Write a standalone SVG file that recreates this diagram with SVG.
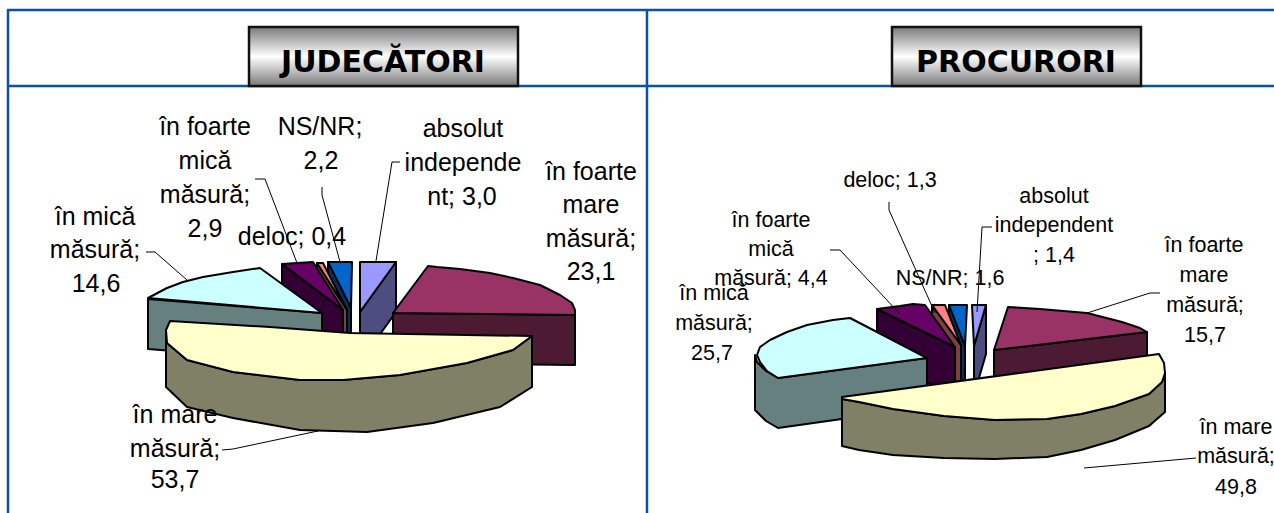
<svg xmlns="http://www.w3.org/2000/svg" width="1274" height="513" viewBox="0 0 1274 513">
<defs>
<linearGradient id="tg" x1="0" y1="0" x2="0" y2="1">
<stop offset="0" stop-color="#7a7a7a"/>
<stop offset="0.5" stop-color="#ffffff"/>
<stop offset="1" stop-color="#7a7a7a"/>
</linearGradient>
<style>
.frame{stroke:#0a52a5;stroke-width:2.5;fill:none}
.tbox{fill:url(#tg);stroke:#111;stroke-width:2.5}
.ttl{font-family:"DejaVu Sans",Verdana,sans-serif;font-weight:bold;font-size:30px;text-anchor:middle;fill:#000}
.s{stroke:#000;stroke-width:2;stroke-linejoin:round}
.lab{font-family:"Liberation Sans",Arial,sans-serif;font-size:25px;text-anchor:middle;fill:#000}
.labr{font-family:"Liberation Sans",Arial,sans-serif;font-size:21.5px;text-anchor:middle;fill:#000}
.ld{stroke:#000;stroke-width:1;fill:none}
.lav{fill:#9999ff}.lavd{fill:#4d4d80}
.mar{fill:#993366}.mard{fill:#4d1a33}
.yel{fill:#ffffcc}.yeld{fill:#808066}
.cya{fill:#ccffff}.cyad{fill:#668080}
.pur{fill:#660066}.purd{fill:#330033}
.sal{fill:#ff8080}.sald{fill:#804040}
.blu{fill:#0066cc}.blud{fill:#003366}
</style>
</defs>
<rect width="1274" height="513" fill="#fff"/>
<g id="frame">
<line class="frame" x1="7" y1="10" x2="1274" y2="10"/>
<line class="frame" x1="8" y1="10" x2="8" y2="513"/>
<line class="frame" x1="647" y1="10" x2="647" y2="513"/>
<line class="frame" x1="8" y1="86" x2="1274" y2="86"/>
</g>
<g id="title-judecatori">
<rect class="tbox" x="249" y="27" width="269" height="59"/>
<text class="ttl" x="383" y="72">JUDECĂTORI</text>
</g>
<g id="title-procurori">
<rect class="tbox" x="892" y="27" width="249" height="59"/>
<text class="ttl" x="1016" y="72">PROCURORI</text>
</g>

<!-- LEFT PIE -->
<g id="j-nsnr">
<polygon class="s blud" points="328,262 351,308 351,358 328,312"/>
<polygon class="s blu" points="328,262 352,262 351,308"/>
</g>
<g id="j-deloc">
<polygon class="s sald" points="317,263 347,310 347,360 317,313"/>
<polygon class="s sal" points="317,263 323,263 347,310"/>
</g>
<g id="j-foarte-mica">
<polygon class="s purd" points="282,264 343,310 343,360 282,314"/>
<polygon class="s pur" points="282,264 297,263 313,262 343,310"/>
</g>
<g id="j-mica">
<polygon class="s cyad" points="148,299 322,313 322,363 148,349"/>
<polygon class="s cya" points="148,298 167,288 183,282 203,277 233,272 260,268 322,313"/>
</g>
<g id="j-absolut">
<polygon class="s lavd" points="396,262 360,312 360,362 396,312"/>
<polygon class="s lav" points="360,262 396,262 360,312"/>
</g>
<g id="j-foarte-mare">
<polygon class="s mard" points="393,313 575,315 575,365 393,363"/>
<polygon class="s mar" points="393,313 428,266 437,267 460,269 490,273 513,278 540,285 560,295 572,303 575,310 575,315"/>
</g>
<g id="j-mare">
<polygon class="s yeld" points="532,336 513,350 467,363 400,375 343,380 300,380 233,372 187,360 167,343 166,330 166,387 187,407 233,418 300,430 367,432 433,423 500,407 532,387"/>
<polygon class="s yel" points="170,321 270,327 350,333 532,336 513,350 467,363 400,375 343,380 300,380 233,372 187,360 167,343 166,330"/>
</g>

<!-- RIGHT PIE -->
<g id="p-nsnr">
<polygon class="s blud" points="949,305 965,346 965,395 949,354"/>
<polygon class="s blu" points="949,305 967,305 965,346"/>
</g>
<g id="p-deloc">
<polygon class="s sald" points="932,305 961,345 961,394 932,354"/>
<polygon class="s sal" points="932,305 945,305 961,345"/>
</g>
<g id="p-foarte-mica">
<polygon class="s purd" points="877,309 955,347 955,396 877,358"/>
<polygon class="s pur" points="877,309 900,306 913,304 925,305 955,347"/>
</g>
<g id="p-mica">
<polygon class="s cyad" points="755,355 757,362 766,371 778,378 927,358 927,407 778,428 766,421 755,410"/>
<polygon class="s cya" points="778,378 767,371 760,362 757,355 760,347 770,340 787,332 807,325 833,320 850,318 927,358"/>
</g>
<g id="p-absolut">
<polygon class="s lavd" points="986,305 974,346 974,395 986,354"/>
<polygon class="s lav" points="972,305 986,305 974,346"/>
</g>
<g id="p-foarte-mare">
<polygon class="s mard" points="994,350 1147,332 1147,381 994,399"/>
<polygon class="s mar" points="994,350 1008,307 1040,309 1087,313 1122,322 1140,328 1147,332"/>
</g>
<g id="p-mare">
<polygon class="s yeld" points="842,399 859,402 893,409 944,416 995,420 1047,419 1081,414 1115,406 1149,394 1162,382 1165,373 1165,412 1149,426 1115,440 1081,450 1047,457 995,459 944,458 893,455 859,450 842,446"/>
<polygon class="s yel" points="842,397 1159,354 1164,363 1165,373 1162,382 1149,394 1115,406 1081,414 1047,419 995,420 944,416 893,409 859,402 842,399"/>
</g>

<g id="connectors">
<polyline class="ld" points="146,252 155,252 187,280"/>
<polyline class="ld" points="255,179 265,179 297,263"/>
<polyline class="ld" points="322,187 322,195 340,262"/>
<polyline class="ld" points="400,162 392,162 376,261"/>
<polyline class="ld" points="222,450 233,449 318,431"/>
<polyline class="ld" points="830,250 840,250 900,314"/>
<polyline class="ld" points="889,202 889,210 935,313"/>
<polyline class="ld" points="992,227 982,227 977,312"/>
<polyline class="ld" points="1160,293 1150,293 1087,313"/>
<polyline class="ld" points="1196,458 1185,459 1084,468"/>
</g>

<g id="labels-judecatori">
<text class="lab" x="205" y="135">în foarte</text>
<text class="lab" x="205" y="169">mică</text>
<text class="lab" x="205" y="203">măsură;</text>
<text class="lab" x="205" y="237">2,9</text>
<text class="lab" x="320" y="135">NS/NR;</text>
<text class="lab" x="321" y="169">2,2</text>
<text class="lab" x="292" y="245">deloc; 0,4</text>
<text class="lab" x="463" y="137">absolut</text>
<text class="lab" x="463" y="171">independe</text>
<text class="lab" x="462" y="205">nt; 3,0</text>
<text class="lab" x="591" y="180">în foarte</text>
<text class="lab" x="591" y="213">mare</text>
<text class="lab" x="591" y="247">măsură;</text>
<text class="lab" x="591" y="280">23,1</text>
<text class="lab" x="95" y="225">în mică</text>
<text class="lab" x="95" y="258">măsură;</text>
<text class="lab" x="96" y="292">14,6</text>
<text class="lab" x="175" y="423">în mare</text>
<text class="lab" x="175" y="457">măsură;</text>
<text class="lab" x="175" y="488">53,7</text>
</g>
<g id="labels-procurori">
<text class="labr" x="771" y="227">în foarte</text>
<text class="labr" x="771" y="256">mică</text>
<text class="labr" x="771" y="285">măsură; 4,4</text>
<text class="labr" x="714" y="300">în mică</text>
<text class="labr" x="714" y="330">măsură;</text>
<text class="labr" x="712" y="360">25,7</text>
<text class="labr" x="890" y="187">deloc; 1,3</text>
<text class="labr" x="950" y="285">NS/NR; 1,6</text>
<text class="labr" x="1054" y="203">absolut</text>
<text class="labr" x="1054" y="232">independent</text>
<text class="labr" x="1054" y="262">; 1,4</text>
<text class="labr" x="1204" y="252">în foarte</text>
<text class="labr" x="1204" y="282">mare</text>
<text class="labr" x="1205" y="312">măsură;</text>
<text class="labr" x="1205" y="342">15,7</text>
<text class="labr" x="1236" y="434">în mare</text>
<text class="labr" x="1236" y="463">măsură;</text>
<text class="labr" x="1236" y="494">49,8</text>
</g>
</svg>
